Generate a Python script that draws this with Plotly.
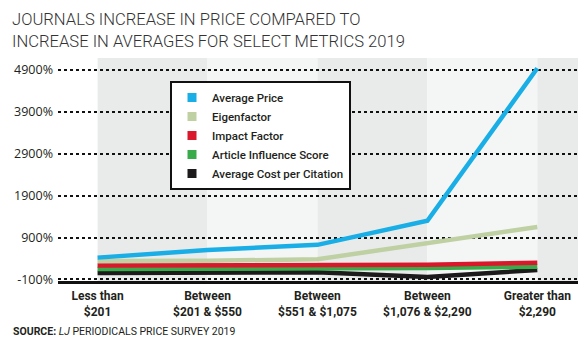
import plotly.graph_objects as go

# Price-range categories (x axis)
categories = [
    "Less than<br>$201",
    "Between<br>$201 & $550",
    "Between<br>$551 & $1,075",
    "Between<br>$1,076 & $2,290",
    "Greater than<br>$2,290",
]

# Percentage increase for each metric, per price range
avg_price = [420, 600, 725, 1300, 4940]
eigenfactor = [340, 345, 380, 770, 1150]
impact_factor = [230, 235, 245, 250, 300]
article_influence = [150, 150, 165, 170, 205]
cost_per_citation = [55, 55, 70, -40, 125]

series_names = [
    "Average Price",
    "Eigenfactor",
    "Impact Factor",
    "Article Influence Score",
    "Average Cost per Citation",
]
series_values = [avg_price, eigenfactor, impact_factor, article_influence, cost_per_citation]
series_colors = ["#1aaee6", "#bfd0a2", "#d9182b", "#3aab4b", "#1c1a1b"]

y_ticks = [-100, 900, 1900, 2900, 3900, 4900]
y_ticktext = [f"{v}%" for v in y_ticks]

x_index = list(range(len(categories)))
x_range = [-0.36, 4.37]
y_range = [-138, 5184]

# plot area in pixels: left 58, right 578, top 58, bottom 281
PL, PR, PT, PB = 58, 578, 58, 281


def px_x(px):
    return (px - PL) / (PR - PL)


def px_y(py):
    return (PB - py) / (PB - PT)


fig = go.Figure()

# lines: draw from the bottom of the legend up so Average Price sits on top
for name, vals, col in reversed(list(zip(series_names, series_values, series_colors))):
    fig.add_trace(go.Scatter(
        x=x_index, y=vals, mode="lines", name=name,
        line=dict(color=col, width=4.5),
        showlegend=False, hoverinfo="skip",
    ))

# legend entries with square swatches
for name, col in zip(series_names, series_colors):
    fig.add_trace(go.Scatter(
        x=[None], y=[None], mode="markers", name=name,
        marker=dict(symbol="square", size=9, color=col),
    ))

# alternating column shading between price categories
band_colors = ["#e9ebeb", "#f4f6f6"]
edges = x_index + [x_range[1]]
for i in range(len(edges) - 1):
    fig.add_shape(
        type="rect", xref="x", yref="paper",
        x0=edges[i], x1=edges[i + 1], y0=0, y1=1,
        fillcolor=band_colors[i % 2], line=dict(width=0), layer="below",
    )

fig.update_layout(
    width=587, height=345,
    margin=dict(l=PL, r=587 - PR, t=PT, b=345 - PB),
    paper_bgcolor="white", plot_bgcolor="white",
    legend=dict(
        x=px_x(170), y=px_y(81), xanchor="left", yanchor="top",
        bgcolor="white", bordercolor="#111111", borderwidth=2,
        font=dict(family="Roboto", size=11.5, color="#231f20", weight=500),
        itemwidth=30, tracegroupgap=0,
    ),
    xaxis=dict(
        range=x_range, tickmode="array", tickvals=x_index, ticktext=categories,
        showgrid=False, zeroline=False,
        showline=True, linecolor="#111111", linewidth=2.5,
        tickfont=dict(family="Roboto", size=12, color="#231f20", weight="bold"),
        ticks="", ticklabelstandoff=2,
    ),
    yaxis=dict(
        range=y_range, tickmode="array", tickvals=y_ticks, ticktext=y_ticktext,
        showgrid=True, gridcolor="#111111", gridwidth=1.5, griddash="dot",
        zeroline=False, showline=False, ticks="",
        tickfont=dict(family="Open Sans", size=12.5, color="#231f20"),
        ticklabelstandoff=4,
    ),
    annotations=[
        dict(
            text="JOURNALS INCREASE IN PRICE COMPARED TO<br>INCREASE IN AVERAGES FOR SELECT METRICS 2019",
            xref="paper", yref="paper", x=px_x(10), y=px_y(8),
            xanchor="left", yanchor="top", align="left", showarrow=False,
            font=dict(family="Roboto", size=16.6, color="#333333", weight=300),
        ),
        dict(
            text="<b>SOURCE:</b> <i>LJ</i> PERIODICALS PRICE SURVEY 2019",
            xref="paper", yref="paper", x=px_x(11), y=px_y(331),
            xanchor="left", yanchor="middle", showarrow=False,
            font=dict(family="Roboto", size=10.5, color="#231f20"),
        ),
    ],
)

fig.write_html("out.html")
